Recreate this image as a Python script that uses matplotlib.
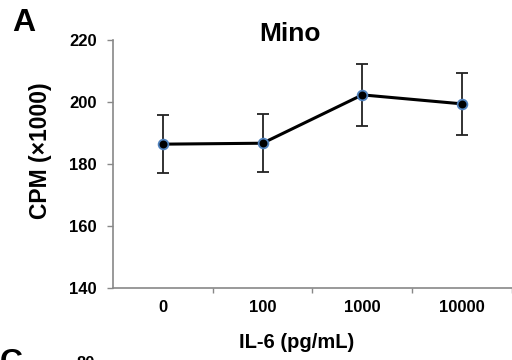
import matplotlib
matplotlib.use("Agg")
import matplotlib.pyplot as plt

categories = ["0", "100", "1000", "10000"]
values = [186.4, 186.7, 202.3, 199.4]
errors = [9.4, 9.4, 10.1, 10.0]
yticks = [140, 160, 180, 200, 220]

plt.rcParams['font.family'] = ['Liberation Sans', 'DejaVu Sans']

fig = plt.figure(figsize=(5.12, 3.6), dpi=100)
ax = fig.add_axes([0.2207, 0.2, 0.779, 0.6889])

x = list(range(len(categories)))
ax.errorbar(x, values, yerr=errors, fmt='none', ecolor='#222222', elinewidth=1.3,
            capsize=4, capthick=1.3, zorder=2)
ax.plot(x, values, color='black', lw=2.2, zorder=3)
ax.plot(x, values, 'o', ms=7, mfc='black', mec='#4f81bd', mew=1.3, zorder=4)

ax.set_xlim(-0.5, 3.5)
ax.set_ylim(140, 220)
ax.set_yticks(yticks)
ax.set_yticklabels([str(t) for t in yticks], fontsize=12, fontweight='bold')
ax.set_xticks(x)
ax.set_xticklabels(categories, fontsize=12, fontweight='bold')
ax.set_xticks([0.5, 1.5, 2.5, 3.5], minor=True)
ax.tick_params(axis='x', which='major', length=0, pad=9)
ax.tick_params(axis='x', which='minor', length=3.5, color='#888888', width=1)
ax.tick_params(axis='y', length=4.5, color='#888888', width=1, pad=7)
for s in ['top', 'right']:
    ax.spines[s].set_visible(False)
for s in ['left', 'bottom']:
    ax.spines[s].set_color('#888888')
    ax.spines[s].set_linewidth(1.2)

ax.set_ylabel("CPM (×1000)", fontsize=16.5, fontweight='bold')
ax.yaxis.set_label_coords(-0.152, 0.552)
fig.text(0.579, 0.05, "IL-6 (pg/mL)", fontsize=14.5, fontweight='bold', ha='center', va='center')
fig.text(0.566, 0.906, "Mino", fontsize=19, fontweight='bold', ha='center', va='center')
fig.text(0.047, 0.935, "A", fontsize=23, fontweight='bold', ha='center', va='center')
fig.text(0.022, -0.008, "C", fontsize=23, fontweight='bold', ha='center', va='center')
fig.text(0.168, -0.01, "80", fontsize=12, fontweight='bold', ha='center', va='center')

fig.savefig("out.png", dpi=100)
